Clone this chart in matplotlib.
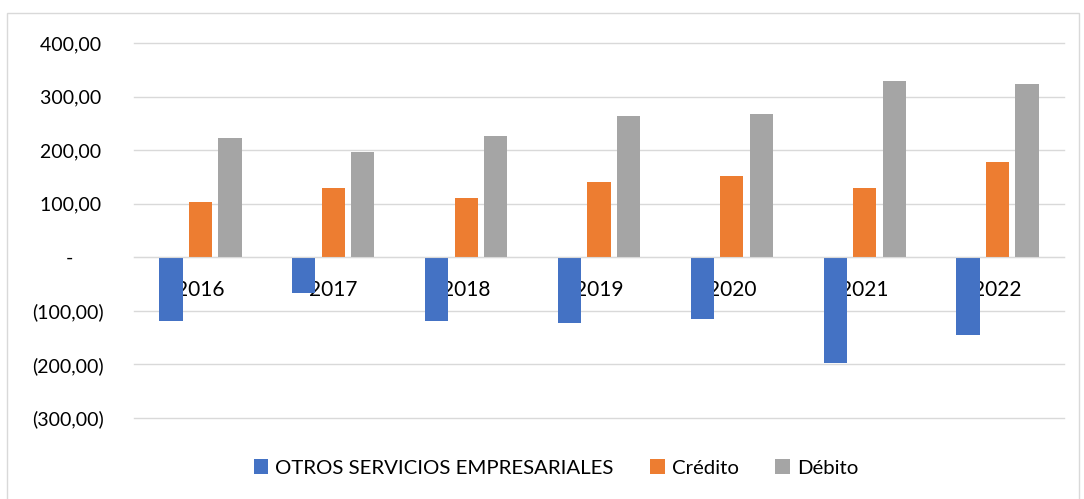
import matplotlib
matplotlib.use("Agg")
import matplotlib.pyplot as plt
import numpy as np
from matplotlib.patches import Rectangle
from matplotlib.ticker import FuncFormatter

years = ["2016", "2017", "2018", "2019", "2020", "2021", "2022"]
otros = [-119, -67, -119, -123, -115, -197, -145]
credito = [103, 129, 111, 141, 152, 129, 178]
debito = [222, 196, 226, 263, 267, 330, 323]
series_names = ["OTROS SERVICIOS EMPRESARIALES", "Crédito", "Débito"]
colors = ["#4472C4", "#ED7D31", "#A5A5A5"]
yticks = [-300, -200, -100, 0, 100, 200, 300, 400]

plt.rcParams['font.family'] = ['Lato', 'DejaVu Sans']

W, H = 1084, 499
fig = plt.figure(figsize=(W / 100, H / 100), dpi=100)
left, right, top, bottom = 134, 1064, 43, 418
ax = fig.add_axes([left / W, 1 - bottom / H, (right - left) / W, (bottom - top) / H])

# outer chart border
fig.patches.append(Rectangle((7 / W, -0.01), (1079 - 7) / W, 1 - 13 / H + 0.01,
                             transform=fig.transFigure, fill=False,
                             edgecolor="#D9D9D9", lw=1.0))

x = np.arange(len(years))
off = 0.222
w = 0.175
for k, (vals, c, n) in enumerate(zip([otros, credito, debito], colors, series_names)):
    ax.bar(x + (k - 1) * off, vals, w, color=c, label=n, zorder=2)

ax.set_xlim(-0.5, len(years) - 0.5)
ax.set_ylim(-300, 400)
ax.set_yticks(yticks)


def fmt(v, pos):
    if v == 0:
        return "-      "
    s = f"{abs(v):,.2f}".replace(",", "X").replace(".", ",").replace("X", ".")
    if v < 0:
        return f"({s})"
    return s + "\u2009"


ax.yaxis.set_major_formatter(FuncFormatter(fmt))
ax.grid(axis="y", color="#D9D9D9", lw=1.0, clip_on=False)
for gl in ax.get_ygridlines():
    gl.set_clip_on(False)
ax.set_axisbelow('line')
for s in ["left", "right", "top"]:
    ax.spines[s].set_visible(False)
ax.spines["bottom"].set_position(("data", 0))
ax.spines["bottom"].set_color("#D9D9D9")
ax.set_xticks(x)
ax.set_xticklabels(years)
ax.tick_params(axis="x", length=0, pad=16, labelsize=15, labelcolor="#000000")
ax.tick_params(axis="y", length=0, pad=22, labelsize=14, labelcolor="#000000")

leg = fig.legend(loc="center", bbox_to_anchor=(556 / W, 1 - 468 / H), ncol=3,
                 frameon=False, fontsize=14.7, handlelength=0.7, handleheight=0.7,
                 handletextpad=0.35, columnspacing=1.8)

fig.savefig("out.png", dpi=100)
